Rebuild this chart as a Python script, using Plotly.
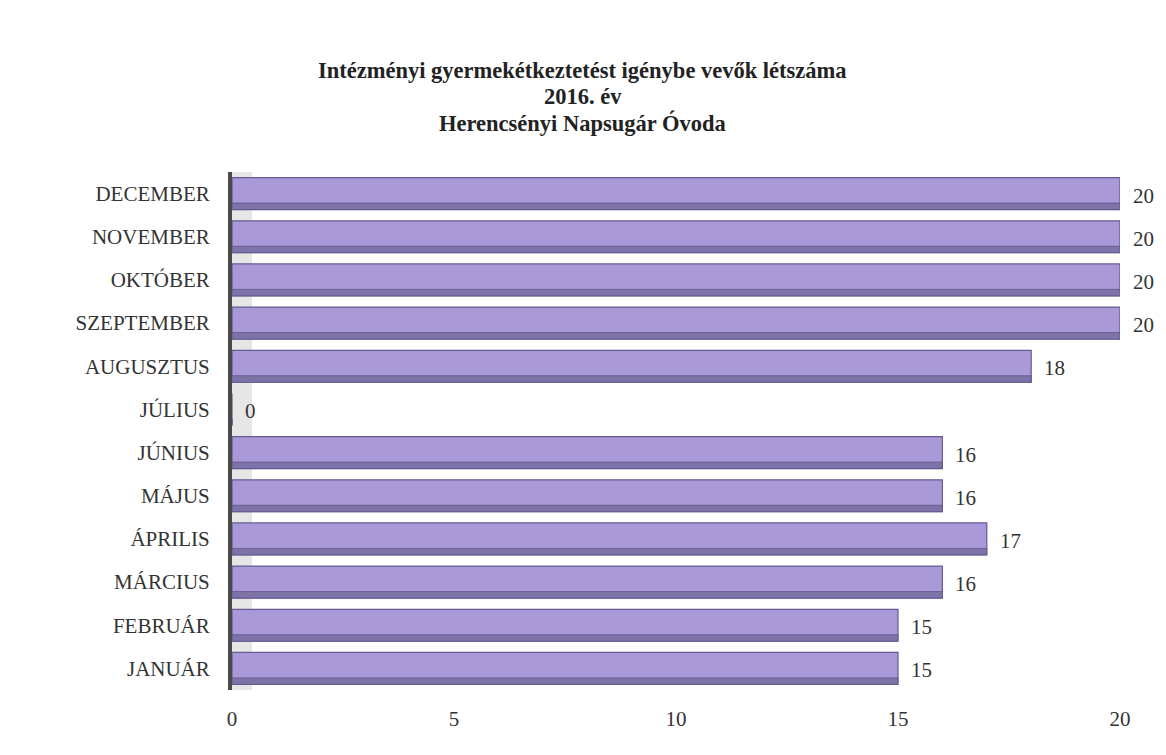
import plotly.graph_objects as go

months = ["JANUÁR", "FEBRUÁR", "MÁRCIUS", "ÁPRILIS", "MÁJUS", "JÚNIUS",
          "JÚLIUS", "AUGUSZTUS", "SZEPTEMBER", "OKTÓBER", "NOVEMBER", "DECEMBER"]
values = [15, 15, 16, 17, 16, 16, 0, 18, 20, 20, 20, 20]
x_ticks = [0, 5, 10, 15, 20]
title_lines = ["Intézményi gyermekétkeztetést igénybe vevők létszáma",
               "2016. év",
               "Herencsényi Napsugár Óvoda"]

serif = "Liberation Serif, Times New Roman, serif"

fig = go.Figure()
# main bar face
fig.add_trace(go.Bar(
    y=months, x=values, orientation="h",
    width=0.74, offset=-0.37,
    marker=dict(color="#a999d9", line=dict(color="#655b90", width=1.2)),
    hoverinfo="x+y",
))
# darker lower edge (3D look)
fig.add_trace(go.Bar(
    y=months, x=values, orientation="h",
    width=0.15, offset=-0.37,
    marker=dict(color="#7e73a8", line=dict(color="#5f5588", width=0.8)),
    hoverinfo="skip",
))

annotations = []
for m, v in zip(months, values):
    annotations.append(dict(
        x=v, y=m, xref="x", yref="y", text=str(v), showarrow=False,
        xanchor="left", xshift=11, yshift=-2,
        font=dict(family=serif, size=21, color="#333333"),
    ))
for i, line in enumerate(title_lines):
    annotations.append(dict(
        x=0.395, y=1, xref="paper", yref="paper", text="<b>%s</b>" % line,
        showarrow=False, xanchor="center", yanchor="middle",
        yshift=[102, 76, 49][i],
        font=dict(family=serif, size=22.5, color="#222222"),
    ))

fig.update_layout(
    width=1150, height=740,
    margin=dict(l=224, r=38, t=164, b=58),
    paper_bgcolor="white", plot_bgcolor="white",
    showlegend=False, barmode="overlay",
    annotations=annotations,
    shapes=[dict(type="rect", xref="x", yref="paper", x0=0, x1=0.45, y0=0, y1=1,
                 fillcolor="#e6e6e6", line=dict(width=0), layer="below")],
    xaxis=dict(range=[0, 20], tickvals=x_ticks, showgrid=False, zeroline=False,
               showline=False, ticks="outside", ticklen=10, tickcolor="rgba(0,0,0,0)",
               tickfont=dict(family=serif, size=21, color="#333333")),
    yaxis=dict(range=[-0.5, 11.5], showgrid=False, zeroline=False,
               showline=True, linecolor="#4a4a4a", linewidth=4,
               ticks="outside", ticklen=14, tickcolor="rgba(0,0,0,0)",
               tickfont=dict(family=serif, size=21, color="#333333")),
)

fig.write_html("out.html")
